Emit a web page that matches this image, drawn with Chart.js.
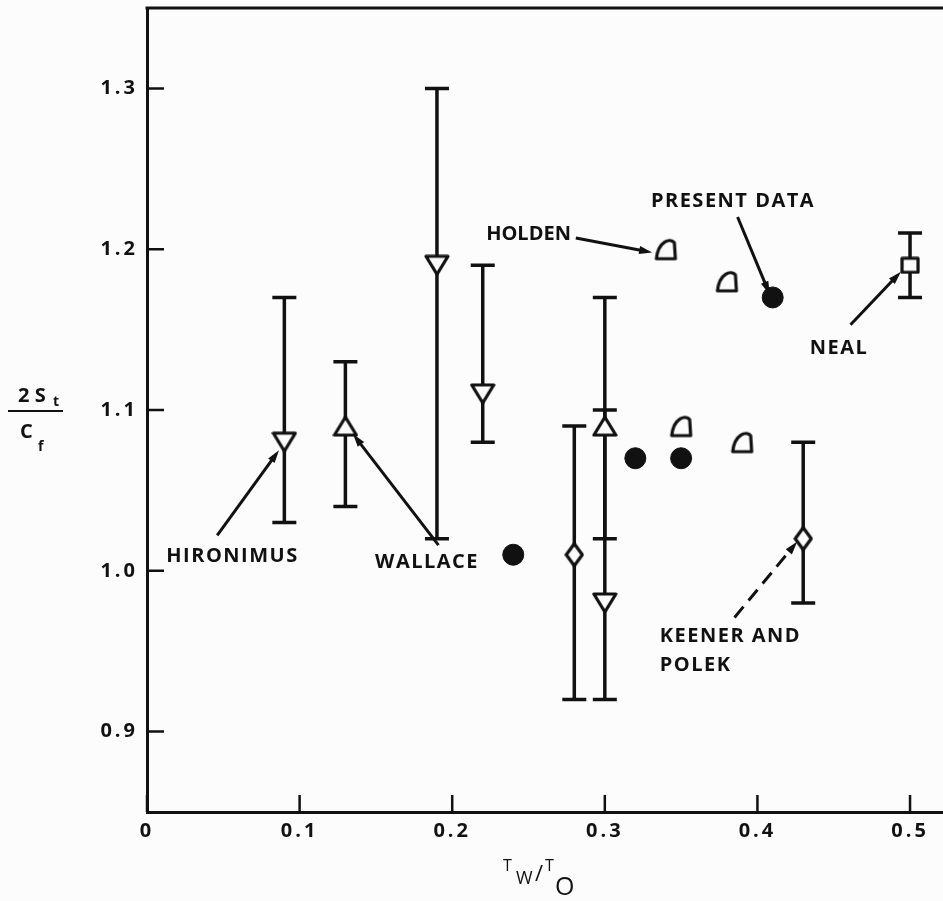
<!DOCTYPE html>
<html>
<head>
<meta charset="utf-8">
<script src="https://cdn.jsdelivr.net/npm/chart.js@4.4.0/dist/chart.umd.min.js"></script>
<style>
  html, body { margin: 0; padding: 0; background: #fcfcfc; }
  canvas { display: block; }
</style>
</head>
<body>
<canvas id="stanton-chart" width="943" height="901"></canvas>
<script>
// Reynolds analogy factor 2St/Cf against wall temperature ratio Tw/To
const xTicks = [0, 0.1, 0.2, 0.3, 0.4, 0.5];
const yTicks = [0.9, 1.0, 1.1, 1.2, 1.3];

const hironimusX = [0.09, 0.19, 0.22, 0.30];
const hironimusY = [1.08, 1.19, 1.11, 0.98];
const hironimusLow = [1.03, 1.02, 1.08, 0.92];
const hironimusHigh = [1.17, 1.30, 1.19, 1.10];

const wallaceX = [0.13, 0.30];
const wallaceY = [1.09, 1.09];
const wallaceLow = [1.04, 1.02];
const wallaceHigh = [1.13, 1.17];

const keenerX = [0.28, 0.43];
const keenerY = [1.01, 1.02];
const keenerLow = [0.92, 0.98];
const keenerHigh = [1.09, 1.08];

const nealX = [0.50];
const nealY = [1.19];
const nealLow = [1.17];
const nealHigh = [1.21];

const holdenX = [0.34, 0.35, 0.38, 0.39];
const holdenY = [1.20, 1.09, 1.18, 1.08];

const presentX = [0.24, 0.32, 0.35, 0.41];
const presentY = [1.01, 1.07, 1.07, 1.17];

const INK = "#111";
const PAPER = "#fcfcfc";
const FONT = "'Open Sans', sans-serif";

// labels with arrows, placed in data units
const callouts = [
  { lines: ["HIRONIMUS"], at: [0.056, 1.009], from: [0.046, 1.022], to: [0.0865, 1.075] },
  { lines: ["WALLACE"], at: [0.1835, 1.005], from: [0.191, 1.016], to: [0.135, 1.085] },
  { lines: ["HOLDEN"], at: [0.250, 1.209], spacing: "0px", from: [0.281, 1.207], to: [0.331, 1.198] },
  { lines: ["PRESENT DATA"], at: [0.384, 1.230], from: [0.387, 1.220], to: [0.408, 1.172] },
  { lines: ["NEAL"], at: [0.4535, 1.1385], from: [0.461, 1.153], to: [0.494, 1.186] },
  { lines: ["KEENER AND", "POLEK"], at: [0.336, 0.959], align: "left", dashed: true,
    from: [0.385, 0.971], to: [0.426, 1.018] },
];

function toPoints(xs, ys) {
  return xs.map((x, i) => ({ x: x, y: ys[i] }));
}

function marker(w, h, draw) {
  const c = document.createElement("canvas");
  c.width = w;
  c.height = h;
  const g = c.getContext("2d");
  g.lineWidth = 3.2;
  g.strokeStyle = INK;
  g.fillStyle = PAPER;
  g.lineJoin = "round";
  draw(g, w, h);
  return c;
}

const triDown = marker(26, 22, (g, w, h) => {
  g.beginPath();
  g.moveTo(2, 2); g.lineTo(w - 2, 2); g.lineTo(w / 2, h - 2); g.closePath();
  g.fill(); g.stroke();
});
const triUp = marker(26, 22, (g, w, h) => {
  g.beginPath();
  g.moveTo(w / 2, 2); g.lineTo(w - 2, h - 2); g.lineTo(2, h - 2); g.closePath();
  g.fill(); g.stroke();
});
const diamond = marker(20, 26, (g, w, h) => {
  g.beginPath();
  g.moveTo(w / 2, 2); g.lineTo(w - 2, h / 2); g.lineTo(w / 2, h - 2); g.lineTo(2, h / 2); g.closePath();
  g.fill(); g.stroke();
});
const square = marker(20, 18, (g, w, h) => {
  g.beginPath();
  g.rect(2, 2, w - 4, h - 4);
  g.fill(); g.stroke();
});
const holdenMark = marker(25, 25, (g, w, h) => {
  g.beginPath();
  g.moveTo(3, h - 3);
  g.lineTo(w - 3, h - 3);
  g.lineTo(w - 4, 6);
  g.bezierCurveTo(w - 8, 1, 5, 4, 3, h - 3);
  g.closePath();
  g.fill(); g.stroke();
});

function dataset(label, xs, ys, style, extra) {
  return Object.assign({
    label: label,
    data: toPoints(xs, ys),
    pointStyle: style,
    pointRadius: 11,
    pointHoverRadius: 11,
    showLine: false,
  }, extra || {});
}

const chartData = {
  datasets: [
    dataset("Hironimus", hironimusX, hironimusY, triDown, { errLow: hironimusLow, errHigh: hironimusHigh }),
    dataset("Wallace", wallaceX, wallaceY, triUp, { errLow: wallaceLow, errHigh: wallaceHigh }),
    dataset("Keener and Polek", keenerX, keenerY, diamond, { errLow: keenerLow, errHigh: keenerHigh }),
    dataset("Neal", nealX, nealY, square, { errLow: nealLow, errHigh: nealHigh }),
    dataset("Holden", holdenX, holdenY, holdenMark),
    dataset("Present data", presentX, presentY, "circle", {
      pointRadius: 10.5, backgroundColor: INK, borderColor: INK, borderWidth: 1,
    }),
  ],
};

const paper = {
  id: "paper",
  beforeDraw(chart) {
    const ctx = chart.ctx;
    ctx.save();
    ctx.fillStyle = PAPER;
    ctx.fillRect(0, 0, chart.width, chart.height);
    ctx.restore();
    ctx.letterSpacing = "3px";
  },
};

const errorBars = {
  id: "errorBars",
  beforeDatasetsDraw(chart) {
    const { ctx, scales: { x, y } } = chart;
    ctx.save();
    ctx.strokeStyle = INK;
    ctx.lineWidth = 3.5;
    chart.data.datasets.forEach((ds) => {
      if (!ds.errLow) return;
      ds.data.forEach((p, i) => {
        const px = x.getPixelForValue(p.x);
        const top = y.getPixelForValue(ds.errHigh[i]);
        const bot = y.getPixelForValue(ds.errLow[i]);
        ctx.beginPath();
        ctx.moveTo(px, top); ctx.lineTo(px, bot);
        ctx.moveTo(px - 12, top); ctx.lineTo(px + 12, top);
        ctx.moveTo(px - 12, bot); ctx.lineTo(px + 12, bot);
        ctx.stroke();
      });
    });
    ctx.restore();
  },
};

function arrow(ctx, x0, y0, x1, y1, dashed) {
  const ang = Math.atan2(y1 - y0, x1 - x0);
  const head = 13;
  ctx.save();
  ctx.lineWidth = 3;
  if (dashed) ctx.setLineDash([14, 8]);
  ctx.beginPath();
  ctx.moveTo(x0, y0);
  ctx.lineTo(x1 - Math.cos(ang) * head * 0.8, y1 - Math.sin(ang) * head * 0.8);
  ctx.stroke();
  ctx.setLineDash([]);
  ctx.beginPath();
  ctx.moveTo(x1, y1);
  ctx.lineTo(x1 - head * Math.cos(ang) + 4 * Math.sin(ang), y1 - head * Math.sin(ang) - 4 * Math.cos(ang));
  ctx.lineTo(x1 - head * Math.cos(ang) - 4 * Math.sin(ang), y1 - head * Math.sin(ang) + 4 * Math.cos(ang));
  ctx.closePath();
  ctx.fill();
  ctx.restore();
}

const frame = {
  id: "frame",
  afterDraw(chart) {
    const { ctx, chartArea: a, scales: { x, y } } = chart;
    ctx.save();
    ctx.strokeStyle = INK;
    ctx.fillStyle = INK;
    ctx.lineWidth = 3;

    // top rule
    ctx.beginPath();
    ctx.moveTo(a.left - 1.5, a.top);
    ctx.lineTo(a.right, a.top);
    ctx.stroke();

    // ticks point into the plot
    ctx.lineWidth = 2.5;
    ctx.beginPath();
    yTicks.forEach((v) => {
      const py = y.getPixelForValue(v);
      ctx.moveTo(a.left, py);
      ctx.lineTo(a.left + 17, py);
    });
    xTicks.forEach((v) => {
      const px = x.getPixelForValue(v);
      ctx.moveTo(px, a.bottom);
      ctx.lineTo(px, a.bottom - 17);
    });
    ctx.stroke();

    // callouts
    ctx.font = "bold 20px " + FONT;
    ctx.textBaseline = "middle";
    callouts.forEach((c) => {
      ctx.letterSpacing = c.spacing || "1.5px";
      ctx.textAlign = c.align || "center";
      const tx = x.getPixelForValue(c.at[0]);
      const ty = y.getPixelForValue(c.at[1]);
      c.lines.forEach((line, i) => ctx.fillText(line, tx, ty + i * 29));
      arrow(ctx,
        x.getPixelForValue(c.from[0]), y.getPixelForValue(c.from[1]),
        x.getPixelForValue(c.to[0]), y.getPixelForValue(c.to[1]), c.dashed);
    });

    // y title: 2 St over Cf
    ctx.letterSpacing = "0px";
    ctx.textAlign = "left";
    ctx.textBaseline = "alphabetic";
    ctx.font = "bold 20px " + FONT;
    ctx.fillText("2 S", 18, 402);
    ctx.fillText("C", 20, 438);
    ctx.font = "bold 14px " + FONT;
    ctx.fillText("t", 53, 406);
    ctx.fillText("f", 38, 451);
    ctx.lineWidth = 2;
    ctx.beginPath();
    ctx.moveTo(8, 411);
    ctx.lineTo(63, 411);
    ctx.stroke();

    // x title: Tw / To
    ctx.font = "16px " + FONT;
    ctx.fillText("T", 503, 871);
    ctx.font = "18px " + FONT;
    ctx.fillText("W", 516, 884);
    ctx.font = "22px " + FONT;
    ctx.fillText("/", 535, 881);
    ctx.font = "16px " + FONT;
    ctx.fillText("T", 545, 871);
    ctx.font = "25px " + FONT;
    ctx.fillText("O", 555, 895);
    ctx.restore();
  },
};

const tickFont = { family: FONT, size: 20, weight: "bold" };

const config = {
  type: "scatter",
  data: chartData,
  options: {
    responsive: false,
    animation: false,
    devicePixelRatio: 1,
    layout: { autoPadding: false, padding: { top: 8, right: 0, left: 0, bottom: 0 } },
    plugins: {
      legend: { display: false },
      tooltip: { enabled: false },
    },
    scales: {
      x: {
        type: "linear",
        min: 0,
        max: 0.5216,
        afterBuildTicks: (scale) => { scale.ticks = xTicks.map((v) => ({ value: v })); },
        afterFit: (scale) => {
          scale.height = 89;
          scale.paddingLeft = 0;
          scale.paddingRight = 0;
        },
        grid: { display: false, drawTicks: false },
        border: { display: true, color: INK, width: 3 },
        ticks: {
          color: INK,
          font: tickFont,
          padding: 7,
          maxRotation: 0,
          autoSkip: false,
          callback: (v) => (v === 0 ? "0" : v.toFixed(1)),
        },
      },
      y: {
        type: "linear",
        min: 0.85,
        max: 1.35,
        afterBuildTicks: (scale) => { scale.ticks = yTicks.map((v) => ({ value: v })); },
        afterFit: (scale) => {
          scale.width = 147;
          scale.paddingTop = 0;
          scale.paddingBottom = 0;
        },
        grid: { display: false, drawTicks: false },
        border: { display: true, color: INK, width: 3 },
        ticks: {
          color: INK,
          font: tickFont,
          padding: 9,
          autoSkip: false,
          callback: (v) => v.toFixed(1),
        },
      },
    },
  },
  plugins: [paper, errorBars, frame],
};

const chart = new Chart(document.getElementById("stanton-chart").getContext("2d"), config);
</script>
</body>
</html>
